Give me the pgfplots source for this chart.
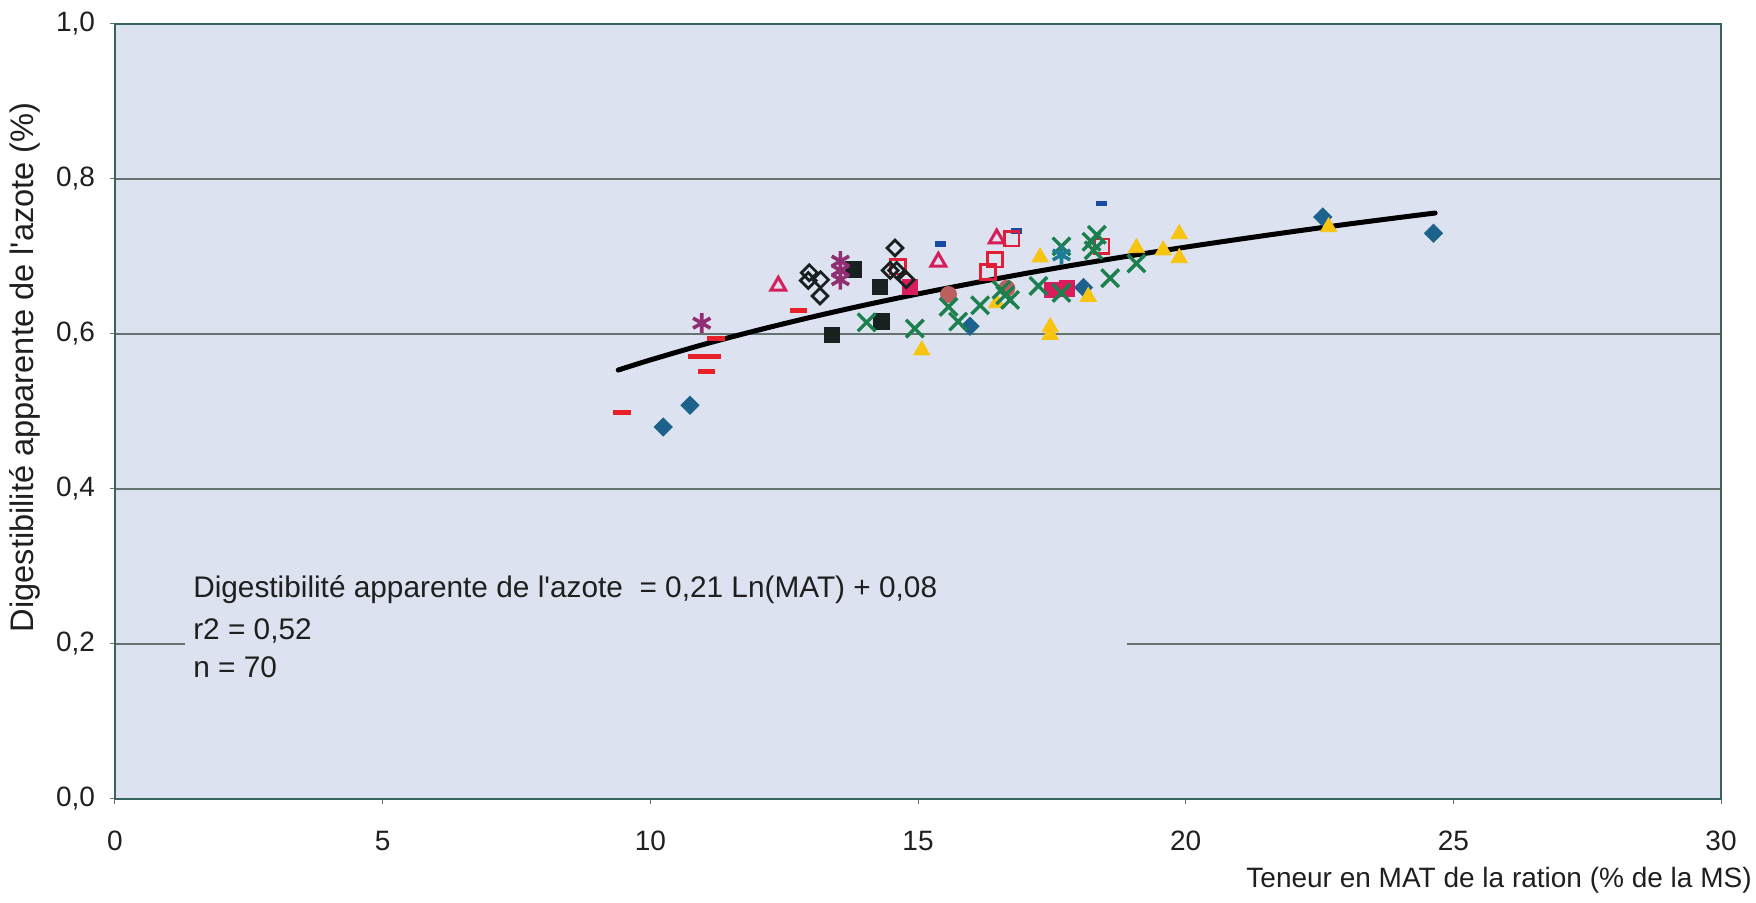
\documentclass[border=0pt]{standalone}
\usepackage{pgfplots}
\pgfplotsset{compat=1.18}
\usepackage{fontspec}
\setmainfont{Liberation Sans}
\definecolor{bg}{RGB}{220,226,239}
\definecolor{axiscol}{RGB}{55,100,92}
\definecolor{gridcol}{RGB}{100,115,112}
\definecolor{bluediam}{RGB}{28,98,140}
\definecolor{yel}{RGB}{247,196,18}
\definecolor{reddash}{RGB}{232,32,40}
\definecolor{bluedash}{RGB}{25,75,165}
\definecolor{pinktri}{RGB}{214,30,90}
\definecolor{redsq}{RGB}{225,30,55}
\definecolor{crimsq}{RGB}{218,28,92}
\definecolor{blk}{RGB}{25,32,32}
\definecolor{purp}{RGB}{145,45,115}
\definecolor{brown}{RGB}{190,95,95}
\definecolor{grn}{RGB}{28,128,78}
\definecolor{teal}{RGB}{30,125,150}
\begin{document}
\begin{tikzpicture}
\begin{axis}[
  scale only axis, width=803pt, height=387.5pt,
  xmin=0, xmax=30, ymin=0, ymax=1,
  xtick={0,5,10,15,20,25,30},
  ytick={0,0.2,0.4,0.6,0.8,1.0},
  axis background/.style={fill=bg},
  axis line style={draw=axiscol, line width=0.8pt},
  ymajorgrids, grid style={draw=gridcol, line width=0.6pt},
  tick style={draw=gridcol, line width=0.5pt},
  major tick length=2.5pt, tick align=outside,
  xtick pos=bottom, ytick pos=left,
  /pgf/number format/assume math mode=true,
  tick label style={font=\fontsize{14}{16}\selectfont, text=black!88},
  yticklabel style={/pgf/number format/.cd, fixed, fixed zerofill, precision=1, use comma, /tikz/.cd, xshift=-4pt},
  xticklabel style={/pgf/number format/.cd, fixed, precision=0, /tikz/.cd, anchor=base, yshift=-23.5pt},
  xlabel={Teneur en MAT de la ration (\% de la MS)},
  ylabel={Digestibilité apparente de l\textquotesingle azote (\%)},
  xlabel style={font=\fontsize{14}{16}\selectfont, text=black!88, at={(rel axis cs:1.0235,-0.1045)}, anchor=east},
  ylabel style={font=\fontsize{16.3}{18}\selectfont, text=black!88, at={(rel axis cs:-0.056,0.557)}, anchor=center},
]
\coordinate (bl) at (rel axis cs:0,0);
\coordinate (tr) at (rel axis cs:1,1);
% cover gridline behind the equation text
\fill[bg] (axis cs:1.31,0.15) rectangle (axis cs:18.9,0.29);
\node[anchor=west, font=\fontsize{14.9}{16}\selectfont, text=black!88] at (axis cs:1.33,0.2697) {Digestibilité apparente de l\textquotesingle azote \ = 0,21 Ln(MAT) + 0,08};
\node[anchor=west, font=\fontsize{14.9}{16}\selectfont, text=black!88] at (axis cs:1.33,0.2173) {r2 = 0,52};
\node[anchor=west, font=\fontsize{14.9}{16}\selectfont, text=black!88] at (axis cs:1.33,0.1697) {n = 70};

% blue filled diamonds
\addplot[only marks, mark=square*, mark size=3.2pt, mark options={rotate=45, fill=bluediam, draw=bluediam}] coordinates {
(10.24,0.480) (10.74,0.508) (15.97,0.610) (18.09,0.660) (22.56,0.751) (24.63,0.730)};
% yellow triangles
\addplot[only marks, mark=triangle*, mark size=4.7pt, mark options={fill=yel, draw=yel}] coordinates {
(15.07,0.579) (16.47,0.640) (17.28,0.699) (17.47,0.609) (17.47,0.599) (18.18,0.648) (19.08,0.711) (19.58,0.708) (19.88,0.729) (19.88,0.698) (22.67,0.738)};
% red dashes
\addplot[only marks, mark=-, mark size=4.4pt, mark options={draw=reddash, line width=2.5pt}] coordinates {
(9.47,0.499) (10.87,0.571) (11.15,0.571) (11.05,0.551) (11.23,0.594) (12.77,0.630)};
% blue dashes
\addplot[only marks, mark=-, mark size=2.7pt, mark options={draw=bluedash, line width=2.6pt}] coordinates {
(15.42,0.716) (16.84,0.733) (18.43,0.768)};
% pink open triangles
\addplot[only marks, mark=triangle, mark size=4.3pt, mark options={draw=pinktri, line width=1.5pt}] coordinates {
(12.39,0.662) (15.38,0.693) (16.47,0.723)};
% red open squares
\addplot[only marks, mark=square, mark size=3.7pt, mark options={draw=redsq, line width=1.4pt}] coordinates {
(14.63,0.687) (16.31,0.680) (16.44,0.696) (16.75,0.723) (18.43,0.713)};
% crimson filled squares
\addplot[only marks, mark=square*, mark size=3.9pt, mark options={fill=crimsq, draw=crimsq}] coordinates {
(14.85,0.661) (17.50,0.657) (17.78,0.659)};
% black open diamonds
\addplot[only marks, mark=square, mark size=2.8pt, mark options={rotate=45, draw=blk, line width=1.4pt}] coordinates {
(12.97,0.679) (12.95,0.669) (13.18,0.670) (13.17,0.649) (14.57,0.711) (14.48,0.682) (14.60,0.682) (14.78,0.670)};
% black filled squares
\addplot[only marks, mark=square*, mark size=3.9pt, mark options={fill=blk, draw=blk}] coordinates {
(13.79,0.683) (14.29,0.661) (14.32,0.616) (13.39,0.599)};
% purple asterisks
\addplot[only marks, mark=asterisk, mark size=5pt, mark options={draw=purp, line width=1.8pt}] coordinates {
(10.96,0.614) (13.55,0.694) (13.55,0.682) (13.55,0.670)};
% brown circles
\addplot[only marks, mark=*, mark size=4pt, mark options={fill=brown, draw=brown}] coordinates {
(15.57,0.651) (16.66,0.659)};
% green crosses
\addplot[only marks, mark=x, mark size=6.2pt, mark options={draw=grn, line width=1.7pt}] coordinates {
(14.04,0.615) (14.94,0.607) (15.57,0.635) (15.75,0.616) (16.16,0.637) (16.56,0.657) (16.72,0.644) (16.63,0.650) (17.25,0.662) (17.68,0.653) (17.68,0.713) (18.34,0.728) (18.24,0.719) (18.28,0.708) (18.59,0.672) (19.08,0.691)};
% teal asterisk
\addplot[only marks, mark=asterisk, mark size=5pt, mark options={draw=teal, line width=1.8pt}] coordinates {
(17.68,0.702)};
% fitted curve
\addplot[black, line width=2.5pt, smooth, line cap=round] coordinates {
(9.4,0.5535) (10,0.5665) (11,0.5866) (12,0.6048) (13,0.6216) (14,0.6372) (15,0.6517) (16,0.6652) (17,0.6780) (18,0.6900) (19,0.7013) (20,0.7121) (21,0.7223) (22,0.7321) (23,0.7415) (24,0.7504) (24.66,0.7561)};
\end{axis}
\pgfresetboundingbox
\path[use as bounding box] ([xshift=-57.5pt,yshift=-52pt]bl) rectangle ([xshift=17.5pt,yshift=12pt]tr);
\end{tikzpicture}
\end{document}
